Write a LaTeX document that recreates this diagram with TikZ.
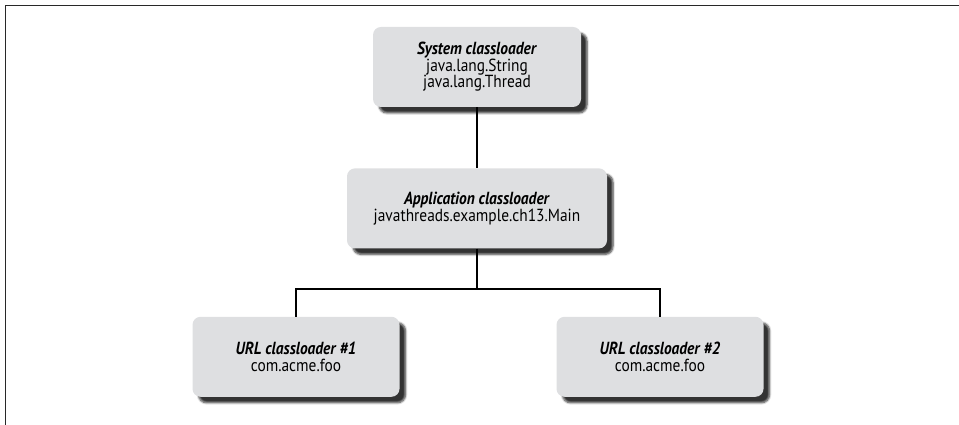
\documentclass[tikz,border=0pt]{standalone}
\usepackage{fontspec}
\setmainfont{PT Sans}[FakeStretch=0.88]
\definecolor{boxgray}{RGB}{222, 223, 225}
\definecolor{linegray}{RGB}{40, 40, 40}
\usetikzlibrary{positioning, shadows.blur}
\tikzset{
	loader/.style={rectangle, rounded corners=8pt, fill=boxgray, align=center, minimum height=80pt, inner sep=2pt, font=\fontsize{17.5}{16.5}\selectfont, blur shadow={shadow xshift=6pt, shadow yshift=-6pt, shadow blur steps=6, shadow blur extra rounding=2pt, shadow opacity=80}},
	link/.style={line width=2.1pt, draw=black},
	frame/.style={line width=1.4pt, draw=linegray},
}
\newcommand{\ltitle}[1]{\textbf{\textit{#1}}}

\begin{document}
\begin{tikzpicture}[x=1pt, y=1pt]
		\useasboundingbox (0,0) rectangle (959,425);
		\draw[frame] (5.5,0) -- (5.5,419.5) -- (959,419.5);
		\node[loader, minimum width=208pt] (sys) at (477,358) {\ltitle{System classloader}\\java.lang.String\\java.lang.Thread};
		\node[loader, minimum width=260pt, below=61pt of sys] (app) {\ltitle{Application classloader}\\javathreads.example.ch13.Main};
		\node[loader, minimum width=207pt, below=68pt of app, xshift=-181pt] (url1) {\ltitle{URL classloader \#1}\\com.acme.foo};
		\node[loader, minimum width=207pt, below=68pt of app, xshift=183pt] (url2) {\ltitle{URL classloader \#2}\\com.acme.foo};
		\coordinate[below=40pt of app.south] (bus);
		\draw[link] (sys) -- (app);
		\draw[link] (app) -- (bus);
		\draw[link] (url1.north) |- (bus) -| (url2.north);
	\end{tikzpicture}
\end{document}
